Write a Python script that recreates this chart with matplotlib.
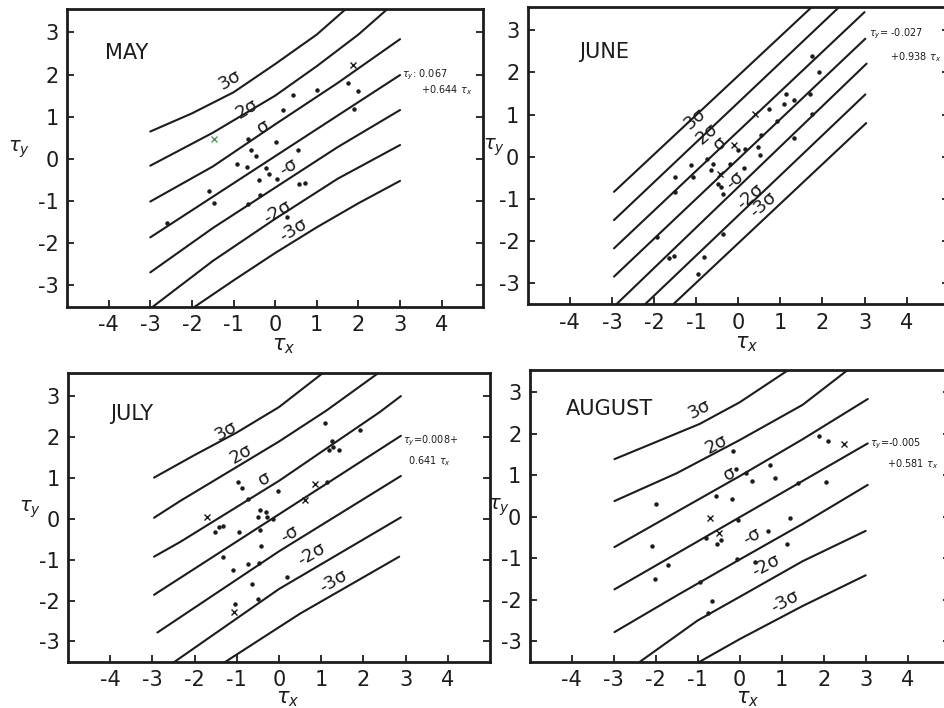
import matplotlib.pyplot as plt
import numpy as np

# Scatter of tau_y against tau_x for four months, with regression line and
# +-sigma, +-2sigma, +-3sigma bands

plt.rcParams['axes.unicode_minus'] = False

band_labels = ['3σ', '2σ', 'σ', None, '-σ', '-2σ', '-3σ']

# ---------- MAY ----------
may_line_x = [[-3.0, -2.0, -1.0, 0.0, 1.0, 1.75],
              [-3.0, -1.5, 0.0, 1.0, 2.0, 2.75],
              [-3.0, -1.5, 0.0, 1.5, 3.0],
              [-3.0, 3.0],
              [-3.0, -1.5, 0.0, 1.5, 3.0],
              [-3.0, -1.5, 0.0, 1.5, 3.0],
              [-2.0, -1.0, 0.0, 1.0, 2.0, 3.0]]
may_line_y = [[0.65, 1.08, 1.58, 2.25, 2.95, 3.6],
              [-0.16, 0.62, 1.50, 2.20, 2.95, 3.6],
              [-1.01, -0.18, 0.82, 1.80, 2.84],
              [-1.86, 1.99],
              [-2.69, -1.64, -0.68, 0.28, 1.16],
              [-3.55, -2.42, -1.42, -0.47, 0.33],
              [-3.55, -2.88, -2.23, -1.62, -1.05, -0.52]]
may_dot_x = [1.74, 2.0, 1.90, 1.00, 0.42, 0.18, 0.02, 0.54, -0.66, -0.58, -0.46, -0.92, -0.67,
             -0.22, -0.14, -0.40, 0.04, 0.58, 0.72, -1.58, -1.47, -0.66, -0.36, -2.60, 0.28]
may_dot_y = [1.81, 1.60, 1.18, 1.64, 1.52, 1.16, 0.40, 0.21, 0.47, 0.21, 0.08, -0.12, -0.20,
             -0.22, -0.36, -0.50, -0.48, -0.59, -0.56, -0.77, -1.05, -1.07, -0.85, -1.51, -1.37]
may_cross_x = [1.86, -1.47]
may_cross_y = [2.23, 0.47]
may_label_x = [-1.08, -0.68, -0.28, None, 0.32, 0.04, 0.44]
may_label_y = [1.87, 1.20, 0.77, None, -0.20, -1.25, -1.68]

# ---------- JUNE ----------
june_line_x = [[-2.95, 1.8], [-2.95, 2.45], [-2.95, 3.0], [-2.95, 3.02],
               [-2.95, 3.05], [-2.27, 3.02], [-1.6, 3.04]]
june_line_y = [[-0.83, 3.6], [-1.50, 3.6], [-2.17, 3.43], [-2.84, 2.80],
               [-3.55, 2.21], [-3.55, 1.48], [-3.55, 0.80]]
june_dot_x = [1.76, 1.92, 1.14, 1.32, 1.08, 1.70, 0.73, 0.92, 1.76, 1.32, 0.55, 0.47, 0.51, 0.00,
              0.15, 0.13, -0.20, -0.60, -0.75, -1.13, -1.51, -1.07, -1.51, -0.64, -0.40, -0.36,
              -0.48, -1.94, -0.36, -1.65, -1.53, -0.81, -0.95]
june_dot_y = [2.40, 2.00, 1.50, 1.34, 1.26, 1.48, 1.14, 0.86, 1.02, 0.45, 0.51, 0.23, 0.04, 0.15,
              0.19, -0.26, -0.16, -0.16, -0.04, -0.20, -0.48, -0.49, -0.83, -0.32, -0.72, -0.87,
              -0.64, -1.90, -1.82, -2.41, -2.36, -2.37, -2.77]
june_cross_x = [0.39, -0.10, -0.44]
june_cross_y = [1.02, 0.27, -0.40]
june_label_x = [-1.02, -0.75, -0.43, None, -0.08, 0.27, 0.59]
june_label_y = [0.91, 0.55, 0.32, None, -0.55, -0.95, -1.14]

# ---------- JULY ----------
july_line_x = [[-2.96, -2.0, -1.0, 0.0, 1.1],
               [-2.96, -2.34, -1.0, 0.0, 1.13, 2.42],
               [-2.96, -2.34, 0.0, 2.39, 2.89],
               [-2.96, 2.89],
               [-2.88, 0.0, 2.89],
               [-2.55, 0.0, 2.89],
               [-1.35, 0.5, 2.85]]
july_line_y = [[1.0, 1.55, 2.1, 2.72, 3.6],
               [0.02, 0.43, 1.26, 1.88, 2.64, 3.6],
               [-0.93, -0.57, 0.92, 2.6, 2.99],
               [-1.86, 2.02],
               [-2.78, -0.80, 1.04],
               [-3.55, -1.72, 0.03],
               [-3.55, -2.32, -0.93]]
july_dot_x = [1.09, 1.92, 1.25, 1.18, 1.29, 1.43, 1.13, -0.02, -0.96, -0.88, -0.73, -0.45, -0.31,
              -0.28, -0.49, -0.13, -1.51, -1.41, -1.32, -0.94, -0.45, -0.43, -1.32, -0.73, -1.08,
              -0.47, -0.65, 0.20, -0.49, -1.04]
july_dot_y = [2.33, 2.16, 1.90, 1.68, 1.74, 1.68, 0.89, 0.68, 0.89, 0.75, 0.48, 0.21, 0.15,
              0.05, 0.05, 0.0, -0.33, -0.21, -0.17, -0.33, -0.29, -0.68, -0.94, -1.11, -1.25,
              -1.09, -1.59, -1.43, -1.96, -2.08]
july_cross_x = [0.85, -1.71, -1.06, 0.62]
july_cross_y = [0.85, 0.03, -2.29, 0.46]
july_label_x = [-1.25, -0.89, -0.34, None, 0.25, 0.76, 1.28]
july_label_y = [2.14, 1.57, 0.96, None, -0.38, -0.87, -1.52]

# ---------- AUGUST ----------
aug_line_x = [[-2.98, -2.0, -0.95, 0.0, 1.25],
              [-2.98, -1.5, 0.0, 1.5, 2.65],
              [-2.98, -1.5, 0.0, 1.5, 3.05],
              [-2.98, 3.05],
              [-2.98, -1.5, 0.0, 1.5, 3.05],
              [-2.45, -1.0, 0.0, 1.5, 3.0],
              [-1.05, 0.0, 1.5, 3.0]]
aug_line_y = [[1.39, 1.80, 2.24, 2.76, 3.6],
              [0.38, 1.05, 1.85, 2.70, 3.6],
              [-0.73, 0.12, 0.98, 1.87, 2.84],
              [-1.75, 1.77],
              [-2.78, -1.90, -1.03, -0.17, 0.77],
              [-3.55, -2.50, -1.93, -1.07, -0.34],
              [-3.55, -2.95, -2.15, -1.41]]
aug_dot_x = [1.90, 2.10, -0.16, -0.08, 0.14, 0.73, 0.30, 0.85, 2.05, 1.39, -1.98, -0.56, -0.17,
             -0.04, 1.21, -0.54, -0.44, -0.79, 0.67, 1.13, -2.08, -1.71, -2.02, -0.06, 0.36,
             -0.95, -0.65, -0.75]
aug_dot_y = [1.94, 1.83, 1.59, 1.16, 1.06, 1.24, 0.86, 0.94, 0.84, 0.81, 0.30, 0.49, 0.44,
             -0.08, -0.02, -0.65, -0.57, -0.50, -0.33, -0.66, -0.71, -1.17, -1.49, -1.01, -1.09,
             -1.57, -2.03, -2.32]
aug_cross_x = [2.48, -0.71, -0.48]
aug_cross_y = [1.75, -0.04, -0.40]
aug_label_x = [-0.95, -0.56, -0.24, None, 0.28, 0.63, 1.07]
aug_label_y = [2.60, 1.75, 1.03, None, -0.46, -1.19, -2.04]

months = ['MAY', 'JUNE', 'JULY', 'AUGUST']
title_x = [-3.57, -3.18, -3.49, -3.1]
title_y = [2.5, 2.49, 2.54, 2.6]
equations = [(r'$\tau_y$: 0.067', r'+0.644 $\tau_x$'),
             (r'$\tau_y$= -0.027', r'+0.938 $\tau_x$'),
             (r'$\tau_y$=0.008+', r'0.641 $\tau_x$'),
             (r'$\tau_y$=-0.005', r'+0.581 $\tau_x$')]
eq_pos = [[(3.05, 2.0), (3.5, 1.63)],
          [(3.1, 2.92), (3.6, 2.37)],
          [(2.95, 1.89), (3.05, 1.41)],
          [(3.1, 1.75), (3.5, 1.27)]]
label_rot = [31, 41, 30, 28]

# axes boxes in figure fractions (from the scan)
boxes = [[0.071, 0.567, 0.441, 0.420],
         [0.559, 0.570, 0.446, 0.420],
         [0.072, 0.065, 0.447, 0.408],
         [0.561, 0.065, 0.445, 0.413]]
ylab_x = [-0.115, -0.08, -0.09, -0.074]
xlab_y = [-0.10, -0.10, -0.093, -0.092]

panels = [(may_line_x, may_line_y, may_dot_x, may_dot_y, may_cross_x, may_cross_y, may_label_x, may_label_y),
          (june_line_x, june_line_y, june_dot_x, june_dot_y, june_cross_x, june_cross_y, june_label_x, june_label_y),
          (july_line_x, july_line_y, july_dot_x, july_dot_y, july_cross_x, july_cross_y, july_label_x, july_label_y),
          (aug_line_x, aug_line_y, aug_dot_x, aug_dot_y, aug_cross_x, aug_cross_y, aug_label_x, aug_label_y)]

ink = '#1c1c1c'
fig = plt.figure(figsize=(9.44, 7.08), dpi=100)

for i, (lx, ly, dx, dy, cx, cy, tx, ty) in enumerate(panels):
    ax = fig.add_axes(boxes[i])
    for xs, ys in zip(lx, ly):
        ax.plot(xs, ys, color=ink, lw=1.5, solid_capstyle='round', solid_joinstyle='round')
    ax.plot(dx, dy, ls='none', marker='o', ms=2.2, color=ink)
    cross_col = [ink] * len(cx)
    if i == 0:
        cross_col[1] = '#4f9a5a'
    for xx, yy, cc in zip(cx, cy, cross_col):
        ax.plot(xx, yy, ls='none', marker='x', ms=5, mew=1.0, color=cc)
    for lab, xx, yy in zip(band_labels, tx, ty):
        if lab is None:
            continue
        ax.text(xx, yy, lab, fontsize=13, rotation=label_rot[i], ha='center', va='center',
                color=ink, rotation_mode='anchor')
    ax.text(title_x[i], title_y[i], months[i], fontsize=15, ha='center', va='center', color=ink)
    (e1, e2) = equations[i]
    ax.text(*eq_pos[i][0], e1, fontsize=7, ha='left', va='center', color=ink, clip_on=False)
    ax.text(*eq_pos[i][1], e2, fontsize=7, ha='left', va='center', color=ink, clip_on=False)

    ax.set_xlim(-5, 5)
    ax.set_ylim(-3.5, 3.55)
    ax.set_xticks(np.arange(-4, 5))
    ax.set_yticks(np.arange(-3, 4))
    ax.tick_params(axis='both', direction='in', length=5, width=1.3, labelsize=15,
                   colors=ink, pad=6)
    ax.tick_params(axis='y', right=True, direction='in')
    for sp in ax.spines.values():
        sp.set_linewidth(2.0)
        sp.set_color(ink)
    ax.set_xlabel(r'$\tau_x$', fontsize=15, color=ink)
    ax.set_ylabel(r'$\tau_y$', fontsize=14, color=ink, rotation=0, va='center')
    ax.xaxis.set_label_coords(0.52, xlab_y[i])
    ax.yaxis.set_label_coords(ylab_x[i], 0.53)

fig.savefig('out.png', dpi=100)
